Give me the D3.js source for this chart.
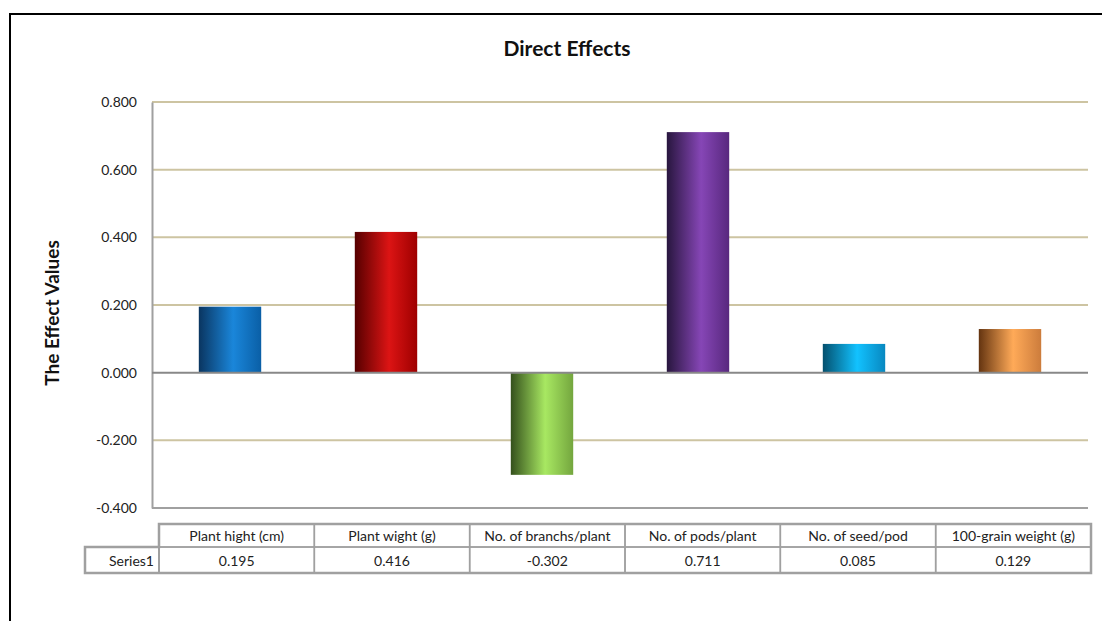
<!DOCTYPE html>
<html><head><meta charset="utf-8">
<script src="https://cdn.jsdelivr.net/npm/d3@7"></script>
<style>body{margin:0;background:#fff}svg{display:block}</style>
</head><body>
<svg id="c" width="1102" height="621"></svg>
<script>
const categories = ["Plant hight (cm)","Plant wight (g)","No. of branchs/plant","No. of pods/plant","No. of seed/pod","100-grain weight (g)"];
const values = [0.195,0.416,-0.302,0.711,0.085,0.129];
const seriesName = "Series1";
const yTicks = [-0.4,-0.2,0,0.2,0.4,0.6,0.8];
const barColors = [
  ["#0a3560","#1a86da","#0a5fa6"],
  ["#560000","#dc1414","#9e0000"],
  ["#34501c","#a8e862","#74a63e"],
  ["#28163e","#8646b6","#58287e"],
  ["#04506e","#12c2ff","#0888c0"],
  ["#643410","#ffaa58","#cc7c3c"]
];
const font = "Lato, 'Open Sans', sans-serif";
const fmt = d => d3.format(".3f")(d).replace("\u2212","-");
const svg = d3.select("#c");
const defs = svg.append("defs");
barColors.forEach((c,i)=>{
  const g = defs.append("linearGradient").attr("id","g"+i).attr("x1","0").attr("x2","1").attr("y1","0").attr("y2","0");
  g.append("stop").attr("offset","0").attr("stop-color",c[0]);
  g.append("stop").attr("offset","0.55").attr("stop-color",c[1]);
  g.append("stop").attr("offset","1").attr("stop-color",c[2]);
});
// outer border
svg.append("rect").attr("x",10).attr("y",14).attr("width",1100).attr("height",620)
  .attr("fill","none").attr("stroke","#000").attr("stroke-width",2);

const x0=152, x1=1088;
const y = d3.scaleLinear().domain([-0.4,0.8]).range([508,102]);
const x = d3.scaleBand().domain(categories).range([x0,x1]).paddingInner(0.6).paddingOuter(0.3);

// gridlines
svg.append("g").selectAll("line").data(yTicks.filter(t=>t!==0 && t!==-0.4)).join("line")
  .attr("x1",x0).attr("x2",x1).attr("y1",d=>y(d)).attr("y2",d=>y(d))
  .attr("stroke","#cdc4a2").attr("stroke-width",2);

// y axis
const yAxis = d3.axisLeft(y).tickValues(yTicks).tickFormat(fmt).tickSize(0).tickPadding(15);
const ya = svg.append("g").attr("transform",`translate(${x0},0)`).call(yAxis);
ya.select(".domain").attr("stroke","#a0a0a0").attr("stroke-width",2);
ya.selectAll("text").attr("font-family",font).attr("font-size",14).attr("fill","#222");
// bottom line
svg.append("line").attr("x1",x0).attr("x2",x1).attr("y1",y(-0.4)).attr("y2",y(-0.4)).attr("stroke","#a0a0a0").attr("stroke-width",2);

// bars
svg.append("g").selectAll("rect").data(values).join("rect")
  .attr("x",(d,i)=>x(categories[i]))
  .attr("width",x.bandwidth())
  .attr("y",d=>y(Math.max(0,d)))
  .attr("height",d=>Math.abs(y(d)-y(0)))
  .attr("fill",(d,i)=>`url(#g${i})`);

// zero line
svg.append("line").attr("x1",x0).attr("x2",x1).attr("y1",y(0)).attr("y2",y(0)).attr("stroke","#888").attr("stroke-width",2);

// title
svg.append("text").attr("x",567).attr("y",56).attr("text-anchor","middle")
  .attr("font-family",font).attr("font-weight","bold").attr("font-size",21).attr("fill","#111").text("Direct Effects");
// y label
svg.append("text").attr("transform","translate(59,313) rotate(-90)").attr("text-anchor","middle")
  .attr("font-family",font).attr("font-weight","bold").attr("font-size",19).attr("fill","#111").text("The Effect Values");

// data table
const tx = d3.scaleBand().domain(categories).range([159,1091]);
const tb = svg.append("g");
const rowTop=524, rowMid=547, rowBot=573, labelLeft=85;
const cs="#a0a0a0";
tb.selectAll("rect.h").data(categories).join("rect").attr("class","h")
  .attr("x",d=>tx(d)).attr("y",rowTop).attr("width",tx.bandwidth()).attr("height",rowMid-rowTop)
  .attr("fill","none").attr("stroke",cs).attr("stroke-width",1.5);
tb.selectAll("rect.v").data(categories).join("rect").attr("class","v")
  .attr("x",d=>tx(d)).attr("y",rowMid).attr("width",tx.bandwidth()).attr("height",rowBot-rowMid)
  .attr("fill","none").attr("stroke",cs).attr("stroke-width",1.5);
tb.append("rect").attr("x",labelLeft).attr("y",rowMid).attr("width",159-labelLeft).attr("height",rowBot-rowMid)
  .attr("fill","none").attr("stroke",cs).attr("stroke-width",2);
tb.append("path").attr("d",`M159,${rowTop}H1091V${rowBot}H${labelLeft}V${rowMid}H159Z`)
  .attr("fill","none").attr("stroke",cs).attr("stroke-width",2.5);
tb.selectAll("text.h").data(categories).join("text").attr("class","h")
  .attr("x",d=>tx(d)+tx.bandwidth()/2).attr("y",rowMid-6).attr("text-anchor","middle")
  .attr("font-family",font).attr("font-size",14).attr("fill","#222").text(d=>d);
tb.selectAll("text.v").data(values).join("text").attr("class","v")
  .attr("x",(d,i)=>tx(categories[i])+tx.bandwidth()/2).attr("y",rowBot-7).attr("text-anchor","middle")
  .attr("font-family",font).attr("font-size",14).attr("fill","#222").text(d=>fmt(d));
tb.append("text").attr("x",154).attr("y",rowBot-7).attr("text-anchor","end")
  .attr("font-family",font).attr("font-size",14).attr("fill","#222").text(seriesName);
</script>
</body></html>
